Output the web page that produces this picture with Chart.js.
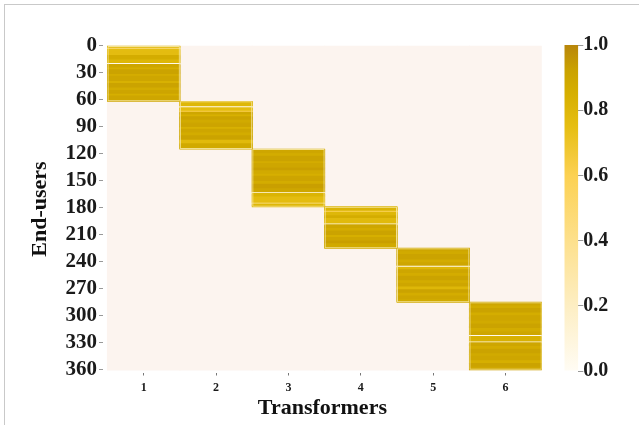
<!DOCTYPE html>
<html>
<head>
<meta charset="utf-8">
<script src="https://cdn.jsdelivr.net/npm/chart.js@4.4.1/dist/chart.umd.min.js"></script>
<style>
  html, body { margin: 0; padding: 0; background: #ffffff; }
  #wrap { position: relative; width: 639px; height: 425px; overflow: hidden; }
  #frame { position: absolute; left: 4px; top: 4px; width: 640px; height: 430px;
           border-top: 1px solid #c9c9c9; border-left: 1px solid #c9c9c9; box-sizing: border-box; }
  #main { position: absolute; left: 0; top: 0; }
  #cbar { position: absolute; left: 540px; top: 0; }
</style>
</head>
<body>
<div id="wrap">
  <div id="frame"></div>
  <canvas id="main" width="639" height="425"></canvas>
  <canvas id="cbar" width="99" height="425"></canvas>
</div>
<script>
// ---------------- DATA ----------------
const transformers = [1, 2, 3, 4, 5, 6];
const userCount = 360;
const yTicks = [0, 30, 60, 90, 120, 150, 180, 210, 240, 270, 300, 330, 360];
const cbarTicks = [0.0, 0.2, 0.4, 0.6, 0.8, 1.0];

// Each transformer block: consecutive end-users, as [number of rows, value] runs
const t1Runs = [[3,0.80],[1,0.45],[7,0.76],[5,0.86],[4,0.80],[1,0.03],
                [4,0.90],[2,0.85],[5,0.92],[2,0.86],[6,0.90],[2,0.84],[5,0.92],[3,0.87],[4,0.91],[2,0.85],[6,0.90]];
const t2Runs = [[6,0.80],[1,0.03],[4,0.76],[1,0.60],
                [3,0.90],[2,0.84],[4,0.92],[3,0.88],[5,0.91],[2,0.84],[4,0.90],[3,0.87],[5,0.92],
                [4,0.78],[6,0.88]];
const t3Runs = [[5,0.90],[3,0.87],[6,0.92],[2,0.86],[5,0.90],[3,0.93],[4,0.88],[2,0.85],[6,0.91],[3,0.87],[5,0.93],[4,0.90],
                [1,0.03],[4,0.82],[7,0.76],[1,0.35],[3,0.80]];
const t4Runs = [[5,0.82],[1,0.55],[4,0.80],[3,0.86],[6,0.78],[1,0.03],
                [4,0.90],[3,0.86],[5,0.92],[2,0.85],[4,0.90],[3,0.93],[5,0.88]];
const t5Runs = [[4,0.90],[3,0.88],[6,0.92],[3,0.87],[4,0.90],[1,0.03],[3,0.80],
                [4,0.90],[3,0.86],[5,0.92],[3,0.87],[4,0.90],[3,0.80],[4,0.92],[3,0.86],[4,0.90],[3,0.88]];
const t6Runs = [[4,0.90],[3,0.87],[5,0.92],[3,0.86],[6,0.90],[3,0.88],[5,0.92],[4,0.87],[4,0.90],
                [1,0.03],[6,0.84],[1,0.03],
                [4,0.90],[3,0.86],[5,0.92],[3,0.88],[5,0.90],[3,0.85],[4,0.92],[3,0.89]];
const blockRuns = [t1Runs, t2Runs, t3Runs, t4Runs, t5Runs, t6Runs];

// ---------------- COLOUR MAP ----------------
const cmapStops = [[0.00,'#fffcf4'],[0.20,'#fdeec3'],[0.40,'#fde08c'],[0.60,'#fcd152'],
                   [0.75,'#e6be12'],[0.85,'#d6af00'],[0.92,'#cba300'],[1.00,'#b8860b']];
const offBlockColor = '#fcf4ef';
const blockEdgeColor = 'rgba(248,234,170,0.85)';
function hexToRgb(h){ return [parseInt(h.slice(1,3),16),parseInt(h.slice(3,5),16),parseInt(h.slice(5,7),16)]; }
function cmap(v){
  v = Math.max(0, Math.min(1, v));
  for (let i = 1; i < cmapStops.length; i++) {
    const [p1,c1] = cmapStops[i-1], [p2,c2] = cmapStops[i];
    if (v <= p2) {
      const t = (v - p1) / (p2 - p1), a = hexToRgb(c1), b = hexToRgb(c2);
      return 'rgb(' + a.map((x,k)=>Math.round(x + (b[k]-x)*t)).join(',') + ')';
    }
  }
  return cmapStops[cmapStops.length-1][1];
}

// ---------------- BUILD CELLS ----------------
const cells = [];
const blocks = [];
let row = 0;
blockRuns.forEach((runs, bi) => {
  const start = row;
  runs.forEach(([n, v]) => {
    for (let k = 0; k < n; k++) { cells.push({x: transformers[bi], y: [row, row + 1], v: v}); row++; }
  });
  blocks.push({x: transformers[bi], y: [start, row]});
});
const background = transformers.map(t => ({x: t, y: [0, userCount]}));

const serif = 'Liberation Serif, Times New Roman, serif';

new Chart(document.getElementById('main'), {
  type: 'bar',
  data: {
    datasets: [
      { data: background, backgroundColor: offBlockColor, grouped: false, order: 3,
        categoryPercentage: 1, barPercentage: 1, borderWidth: 0, inflateAmount: 0.6 },
      { data: cells, backgroundColor: c => (c.raw ? cmap(c.raw.v) : offBlockColor), grouped: false, order: 2,
        categoryPercentage: 1, barPercentage: 1, borderWidth: 0, inflateAmount: 0.45 },
      { data: blocks, backgroundColor: 'rgba(0,0,0,0)', borderColor: blockEdgeColor, borderWidth: 1, grouped: false, order: 1,
        categoryPercentage: 1, barPercentage: 1, borderSkipped: false, inflateAmount: 0 }
    ]
  },
  options: {
    responsive: false, animation: false, devicePixelRatio: 1,
    layout: { padding: { left: 22, top: 45.5, right: 97.2, bottom: 2 } },
    plugins: { legend: { display: false }, tooltip: { enabled: false } },
    scales: {
      x: {
        type: 'linear', min: 0.438, max: 6.5, offset: false,
        afterBuildTicks: s => { s.ticks = transformers.map(v => ({value: v})); },
        afterFit: s => { s.height = 50.5; },
        grid: { display: true, offset: false, drawOnChartArea: false, drawTicks: true, tickLength: 3, tickColor: '#777', tickWidth: 1 },
        border: { display: false },
        ticks: { font: { family: serif, size: 12, weight: 'bold' }, color: '#1a1a1a', padding: 5, autoSkip: false, maxRotation: 0,
                 callback: v => String(v) },
        title: { display: true, text: 'Transformers', font: { family: serif, size: 22, weight: 'bold' }, color: '#111',
                 padding: { top: 0, bottom: 1 } }
      },
      y: {
        type: 'linear', reverse: true, min: 0, max: 363,
        afterBuildTicks: s => { s.ticks = yTicks.map(v => ({value: v})); },
        afterFit: s => { s.width = 81; },
        grid: { display: true, drawOnChartArea: false, drawTicks: true, tickLength: 4, tickColor: '#999', tickWidth: 1 },
        border: { display: false },
        ticks: { font: { family: serif, size: 21, weight: 'bold' }, color: '#1a1a1a', padding: 2, autoSkip: false,
                 callback: v => String(v) },
        title: { display: true, text: 'End-users', font: { family: serif, size: 22, weight: 'bold' }, color: '#111',
                 padding: { top: 5, bottom: 0 } }
      }
    }
  }
});

// ---------------- COLOUR BAR ----------------
new Chart(document.getElementById('cbar'), {
  type: 'bar',
  data: {
    labels: ['scale'],
    datasets: [{
      data: [[0, 1]], borderWidth: 0, inflateAmount: 0, categoryPercentage: 1, barPercentage: 1,
      backgroundColor: c => {
        const ch = c.chart, ys = ch.scales.y;
        if (!ch.chartArea || !ys) return cmapStops[0][1];
        const g = ch.ctx.createLinearGradient(0, ys.getPixelForValue(0), 0, ys.getPixelForValue(1));
        cmapStops.forEach(([p, col]) => g.addColorStop(p, col));
        return g;
      }
    }]
  },
  options: {
    responsive: false, animation: false, devicePixelRatio: 1,
    layout: { padding: { left: 24.3, top: 45, right: 0, bottom: 54 } },
    plugins: { legend: { display: false }, tooltip: { enabled: false } },
    scales: {
      x: { display: false },
      y: {
        position: 'right', min: 0, max: 1,
        afterBuildTicks: s => { s.ticks = cbarTicks.map(v => ({value: v})); },
        afterFit: s => { s.width = 60.7; },
        grid: { display: true, drawOnChartArea: false, drawTicks: true, tickLength: 5, tickColor: '#999', tickWidth: 1 },
        border: { display: false },
        ticks: { font: { family: serif, size: 20, weight: 'bold' }, color: '#1a1a1a', padding: 0,
                 callback: v => Number(v).toFixed(1) }
      }
    }
  }
});
</script>
</body>
</html>
